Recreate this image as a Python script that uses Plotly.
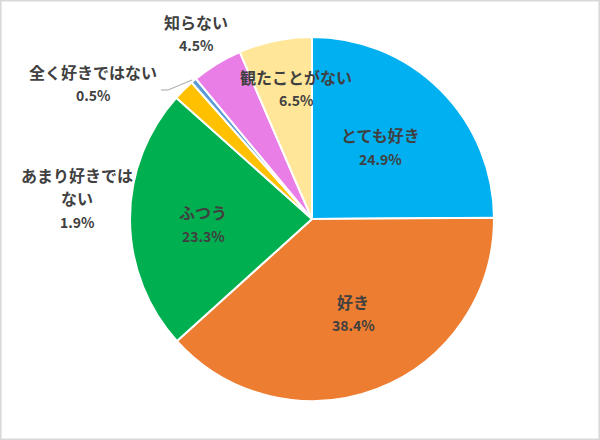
import plotly.graph_objects as go

# ---- data ----
categories = ["とても好き", "好き", "ふつう", "あまり好きではない", "全く好きではない", "知らない", "観たことがない"]
values = [24.9, 38.4, 23.3, 1.9, 0.5, 4.5, 6.5]
colors = ["#00B0F0", "#ED7D31", "#00B050", "#FFC000", "#5B9BD5", "#E97FE6", "#FFE699"]

# ---- layout constants ----
W, H = 600, 440
CX, CY, R = 312, 219, 182  # pie centre / radius in px

# label text lines and offsets (px, relative to pie centre) -- style/layout only
label_lines = {
    "とても好き": [("とても好き", 68, -84), ("{p}", 68, -60)],
    "好き": [("好き", 41, 83), ("{p}", 41, 106)],
    "ふつう": [("ふつう", -109, -7), ("{p}", -109, 17)],
    "あまり好きではない": [("あまり好きでは", -235, -44), ("ない", -235, -21), ("{p}", -235, 3)],
    "全く好きではない": [("全く好きではない", -219, -147), ("{p}", -219, -124)],
    "知らない": [("知らない", -116, -197), ("{p}", -116, -174)],
    "観たことがない": [("観たことがない", -16, -142), ("{p}", -16, -119)],
}

fig = go.Figure(
    go.Pie(
        labels=categories,
        values=values,
        sort=False,
        direction="clockwise",
        rotation=0,
        marker=dict(colors=colors, line=dict(color="white", width=2)),
        textinfo="none",
        hoverinfo="label+percent",
        showlegend=False,
        domain=dict(x=[(CX - R) / W, (CX + R) / W], y=[1 - (CY + R) / H, 1 - (CY - R) / H]),
    )
)

annotations = []
for cat, val in zip(categories, values):
    for txt, dx, dy in label_lines[cat]:
        is_pct = txt == "{p}"
        t = f"{val:.1f}%" if is_pct else txt
        annotations.append(
            dict(
                x=(CX + dx) / W,
                y=1 - (CY + dy) / H,
                xref="paper",
                yref="paper",
                text=t,
                showarrow=False,
                xanchor="center",
                yanchor="middle",
                font=dict(family="Noto Sans CJK JP", size=14 if is_pct else 16,
                          color="#404040", weight="bold"),
            )
        )

shapes = [
    # outer frame
    dict(type="rect", xref="paper", yref="paper", x0=0.001, y0=0.001, x1=0.999, y1=0.999,
         line=dict(color="#D9D9D9", width=2)),
    # leader line for 全く好きではない
    dict(type="path", xref="paper", yref="paper",
         path=f"M {161/W},{1-90/H} L {168/W},{1-90/H} L {192/W},{1-80/H}",
         line=dict(color="#A6A6A6", width=1)),
]

fig.update_layout(
    width=W,
    height=H,
    margin=dict(l=0, r=0, t=0, b=0),
    paper_bgcolor="white",
    plot_bgcolor="white",
    annotations=annotations,
    shapes=shapes,
)

fig.write_html(
    "out.html",
    config={"displayModeBar": False},
    post_script="document.body.style.margin='0';document.body.style.overflow='hidden';",
)
